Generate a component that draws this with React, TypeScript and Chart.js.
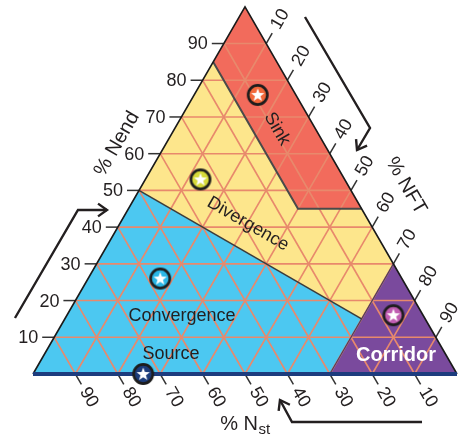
import { useEffect, useRef } from "react";
import { Chart, registerables } from "chart.js";

Chart.register(...registerables);

// Ternary points are written as [Nst, NFT, Nend] in percent.
const TICKS = [10, 20, 30, 40, 50, 60, 70, 80, 90];

const MARKER_NAMES = ["Sink", "Divergence", "Convergence", "Source", "Corridor"];
const MARKER_NST = [9, 34, 57, 74, 7];
const MARKER_NFT = [15, 13, 17, 26, 77];
const MARKER_NEND = [76, 53, 26, 0, 16];
const MARKER_COLORS = ["#F2683A", "#D6DA3A", "#2BB7E6", "#1C3C7A", "#C05DB2"];

const REGION_NAMES = ["Convergence", "Divergence", "Sink", "Corridor"];
const REGION_CONVERGENCE = [[100, 0, 0], [30, 70, 0], [15, 70, 15], [50, 0, 50]];
const REGION_DIVERGENCE = [[50, 0, 50], [15, 70, 15], [0, 70, 30], [0, 55, 45], [15, 40, 45], [15, 0, 85]];
const REGION_SINK = [[15, 0, 85], [15, 40, 45], [0, 55, 45], [0, 0, 100]];
const REGION_CORRIDOR = [[30, 70, 0], [0, 100, 0], [0, 70, 30]];
const REGION_COLORS = ["#4CC8F1", "#FDE68C", "#F26B5C", "#7A4A9D"];

const SINK_EDGE = [[15, 0, 85], [15, 40, 45], [0, 55, 45]];
const SPLIT_EDGE = [[50, 0, 50], [15, 70, 15]];
const CORRIDOR_EDGE = [[30, 70, 0], [0, 70, 30]];
const OUTLINE = [[100, 0, 0], [0, 0, 100], [0, 100, 0]];
const BASE = [[100, 0, 0], [0, 100, 0]];

// Flow arrows, in the chart's x/y units
const ARROW_RIGHT = [[0.6415, 0.842], [0.7948, 0.5802], [0.7642, 0.5283]];
const ARROW_LEFT = [[-0.0425, 0.1321], [0.1061, 0.3868], [0.1745, 0.3868]];
const ARROW_BOTTOM = [[0.9175, -0.1132], [0.6108, -0.1132], [0.5825, -0.0613]];

const SQ = Math.sqrt(3) / 2;
const TICK_LEN = 2.83;
const FONT = '"Liberation Sans", Arial, Helvetica, sans-serif';
const INK = "#231F20";
const GRID = "#E8896C";

function toXY(t: number[]) {
  return { x: t[1] / 100 + t[2] / 200, y: (t[2] / 100) * SQ };
}

function lineSet(pts: number[][], color: string, width: number, order: number) {
  return {
    data: pts.map(toXY),
    showLine: true,
    pointRadius: 0,
    borderColor: color,
    borderWidth: width,
    fill: false,
    clip: false as any,
    order,
    borderCapStyle: "butt",
    borderJoinStyle: "miter",
  };
}

function markerImage(color: string) {
  const c = document.createElement("canvas");
  c.width = 26;
  c.height = 26;
  const g = c.getContext("2d")!;
  g.beginPath();
  g.arc(13, 13, 9.6, 0, Math.PI * 2);
  g.fillStyle = color;
  g.fill();
  g.lineWidth = 2.6;
  g.strokeStyle = "#1D1D1D";
  g.stroke();
  g.beginPath();
  for (let i = 0; i < 10; i++) {
    const r = i % 2 === 0 ? 7 : 2.9;
    const a = -Math.PI / 2 + (i * Math.PI) / 5;
    const px = 13 + r * Math.cos(a);
    const py = 13.4 + r * Math.sin(a);
    if (i === 0) g.moveTo(px, py);
    else g.lineTo(px, py);
  }
  g.closePath();
  g.fillStyle = "#FFFFFF";
  g.fill();
  return c;
}

type LabelSpec = { text: string; x: number; y: number; rot: number; font: string; color: string };

const REGION_LABELS: LabelSpec[] = [
  { text: "Sink", x: 0.5755, y: 0.5778, rot: 60, font: `18px ${FONT}`, color: INK },
  { text: "Divergence", x: 0.5071, y: 0.3538, rot: 30, font: `18px ${FONT}`, color: INK },
  { text: "Convergence", x: 0.3514, y: 0.1368, rot: 0, font: `18px ${FONT}`, color: INK },
  { text: "Source", x: 0.3255, y: 0.0472, rot: 0, font: `18px ${FONT}`, color: INK },
  { text: "Corridor", x: 0.8561, y: 0.0448, rot: 0, font: `bold 20px ${FONT}`, color: "#FFFFFF" },
  { text: "% Nend", x: 0.1981, y: 0.5425, rot: -60, font: `20px ${FONT}`, color: INK },
  { text: "% NFT", x: 0.8797, y: 0.4434, rot: 60, font: `20px ${FONT}`, color: INK },
];

const ternaryDecor = {
  id: "ternaryDecor",
  beforeDatasetsDraw(chart: any) {
    const { ctx, scales } = chart;
    const toPx = (t: number[]) => {
      const p = toXY(t);
      return [scales.x.getPixelForValue(p.x), scales.y.getPixelForValue(p.y)];
    };
    const polys = [REGION_CONVERGENCE, REGION_DIVERGENCE, REGION_SINK, REGION_CORRIDOR];
    ctx.save();
    polys.forEach((poly, i) => {
      ctx.beginPath();
      poly.forEach((t, j) => {
        const [a, b] = toPx(t);
        if (j === 0) ctx.moveTo(a, b);
        else ctx.lineTo(a, b);
      });
      ctx.closePath();
      ctx.fillStyle = REGION_COLORS[i];
      ctx.fill();
    });
    ctx.restore();
  },
  afterDatasetsDraw(chart: any) {
    const { ctx, scales } = chart;
    const sx = (v: number) => scales.x.getPixelForValue(v);
    const sy = (v: number) => scales.y.getPixelForValue(v);
    const toPx = (t: number[]) => {
      const p = toXY(t);
      return [sx(p.x), sy(p.y)];
    };
    const text = (s: string, x: number, y: number, rot: number, font: string, color: string, align: CanvasTextAlign = "center") => {
      ctx.save();
      ctx.translate(x, y);
      ctx.rotate((rot * Math.PI) / 180);
      ctx.font = font;
      ctx.fillStyle = color;
      ctx.textAlign = align;
      ctx.textBaseline = "middle";
      ctx.fillText(s, 0, 0);
      ctx.restore();
    };
    const tickFont = `18px ${FONT}`;
    TICKS.forEach((v) => {
      // % Nend along the left edge
      const l = toPx([100 - v, 0, v]);
      text(String(v), l[0] - 16, l[1] + 1, 0, tickFont, INK, "right");
      // % NFT along the right edge
      const r = toPx([0, v, 100 - v]);
      text(String(v), r[0] + 28 * 0.5, r[1] - 28 * SQ, -60, tickFont, INK);
      // % Nst along the base
      const b = toPx([v, 100 - v, 0]);
      text(String(v), b[0] + 27 * 0.5, b[1] + 27 * SQ, 60, tickFont, INK);
    });
    REGION_LABELS.forEach((l) => text(l.text, sx(l.x), sy(l.y), l.rot, l.font, l.color));

    // "% Nst" with subscript
    ctx.save();
    ctx.fillStyle = INK;
    ctx.textBaseline = "alphabetic";
    const main = "% N";
    ctx.font = `15px ${FONT}`;
    const subW = ctx.measureText("st").width;
    ctx.font = `20px ${FONT}`;
    const mainW = ctx.measureText(main).width;
    const cx = sx(0.5);
    const by = sy(-0.1321);
    const x0 = cx - (mainW + subW) / 2;
    ctx.textAlign = "left";
    ctx.fillText(main, x0, by);
    ctx.font = `15px ${FONT}`;
    ctx.fillText("st", x0 + mainW + 0.5, by + 4);
    ctx.restore();

    // flow arrows
    ctx.save();
    ctx.strokeStyle = INK;
    ctx.lineWidth = 2.4;
    ctx.lineJoin = "miter";
    [ARROW_RIGHT, ARROW_LEFT, ARROW_BOTTOM].forEach((arr) => {
      const pts = arr.map((p) => [sx(p[0]), sy(p[1])]);
      ctx.beginPath();
      pts.forEach((p, i) => (i === 0 ? ctx.moveTo(p[0], p[1]) : ctx.lineTo(p[0], p[1])));
      ctx.stroke();
      const tip = pts[pts.length - 1];
      const prev = pts[pts.length - 2];
      const ang = Math.atan2(tip[1] - prev[1], tip[0] - prev[0]);
      const w = 11;
      const spread = 0.62;
      ctx.beginPath();
      ctx.moveTo(tip[0] - w * Math.cos(ang - spread), tip[1] - w * Math.sin(ang - spread));
      ctx.lineTo(tip[0], tip[1]);
      ctx.lineTo(tip[0] - w * Math.cos(ang + spread), tip[1] - w * Math.sin(ang + spread));
      ctx.stroke();
    });
    ctx.restore();
  },
};

export default function App() {
  const ref = useRef<HTMLCanvasElement>(null);

  useEffect(() => {
    const grid: any[] = [];
    const ticks: any[] = [];
    TICKS.forEach((k) => {
      grid.push(lineSet([[100 - k, 0, k], [0, 100 - k, k]], GRID, 1.6, 5));
      grid.push(lineSet([[k, 0, 100 - k], [k, 100 - k, 0]], GRID, 1.6, 5));
      grid.push(lineSet([[0, k, 100 - k], [100 - k, k, 0]], GRID, 1.6, 5));
      ticks.push(lineSet([[100 - k, 0, k], [100 - k + TICK_LEN, -TICK_LEN, k]], "#333333", 1.5, 3));
      ticks.push(lineSet([[0, k, 100 - k], [-TICK_LEN, k, 100 - k + TICK_LEN]], "#333333", 1.5, 3));
      ticks.push(lineSet([[k, 100 - k, 0], [k, 100 - k + TICK_LEN, -TICK_LEN]], "#333333", 1.5, 3));
    });

    const markers = {
      label: "sites",
      data: MARKER_NAMES.map((_, i) => toXY([MARKER_NST[i], MARKER_NFT[i], MARKER_NEND[i]])),
      pointStyle: MARKER_COLORS.map(markerImage),
      pointRadius: 11,
      showLine: false,
      clip: false as any,
      order: 0,
    };

    const chart = new Chart(ref.current!, {
      type: "scatter",
      data: {
        datasets: [
          markers,
          lineSet(BASE, "#1D3C7E", 4, 1),
          lineSet(OUTLINE, "#1A1A1A", 1.6, 2),
          lineSet(SINK_EDGE, "#4A4A4A", 2, 2),
          lineSet(SPLIT_EDGE, "#3C3C3C", 1.6, 2),
          lineSet(CORRIDOR_EDGE, "#4E3E5E", 1.2, 2),
          ...ticks,
          ...grid,
        ] as any,
      },
      options: {
        animation: false,
        responsive: false,
        maintainAspectRatio: false,
        events: [],
        layout: { padding: 0, autoPadding: false },
        scales: {
          x: { type: "linear", min: -33 / 424, max: 437 / 424, display: false },
          y: { type: "linear", min: -61 / 424, max: 374 / 424, display: false },
        },
        plugins: {
          legend: { display: false },
          tooltip: { enabled: false },
        },
      },
      plugins: [ternaryDecor],
    });
    return () => chart.destroy();
  }, []);

  return (
    <div style={{ position: "absolute", left: 0, top: 0, width: 470, height: 435, background: "#FFFFFF" }}>
      <canvas ref={ref} width={470} height={435} style={{ display: "block" }} aria-label={REGION_NAMES.join(", ")} />
    </div>
  );
}
